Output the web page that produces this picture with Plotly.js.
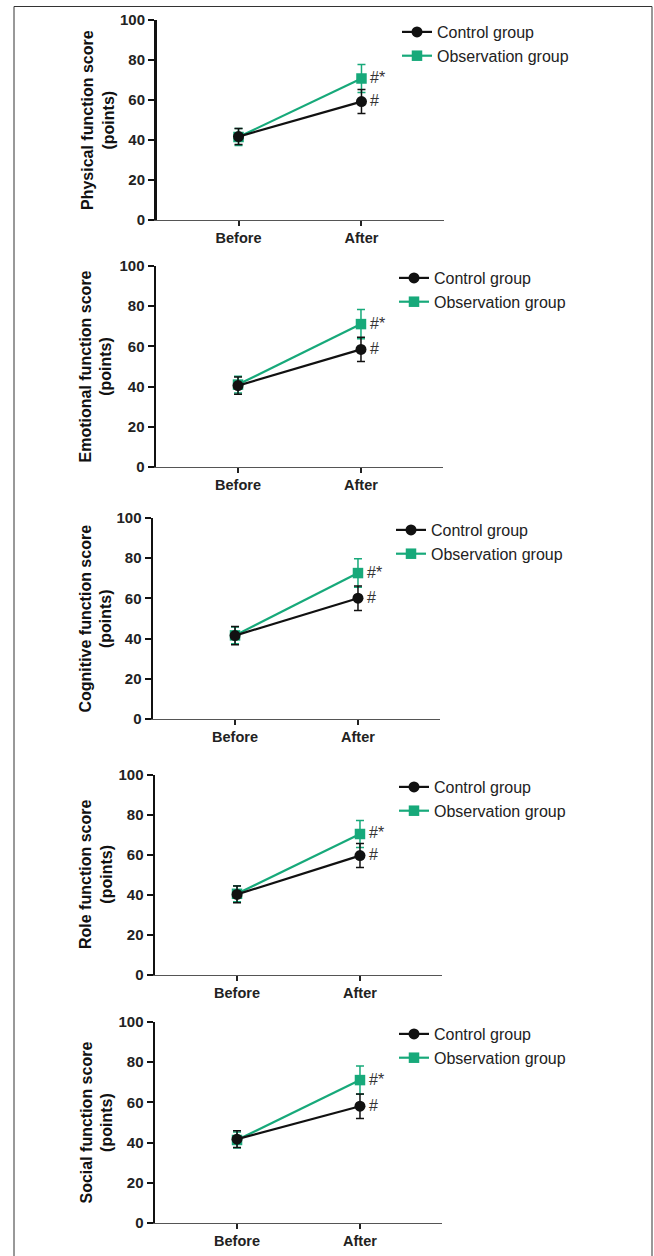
<!DOCTYPE html>
<html>
<head>
<meta charset="utf-8">
<script src="https://cdn.plot.ly/plotly-3.0.1.min.js"></script>
<style>
html,body{margin:0;padding:0;background:#fff;}
#chart{width:654px;height:1256px;}
</style>
</head>
<body>
<div id="chart"></div>
<script>
// ---- data ----
const categories = ['Before', 'After'];
const panelTitles = ['Physical function score', 'Emotional function score', 'Cognitive function score', 'Role function score', 'Social function score'];
const seriesNames = ['Control group', 'Observation group'];

const physicalControl = [41.7, 59.2];
const physicalControlSD = [4.0, 6.0];
const physicalObs = [41.5, 70.8];
const physicalObsSD = [4.2, 7.0];

const emotionalControl = [40.5, 58.5];
const emotionalControlSD = [4.3, 6.0];
const emotionalObs = [41.0, 71.1];
const emotionalObsSD = [4.2, 7.3];

const cognitiveControl = [41.5, 60.1];
const cognitiveControlSD = [4.5, 6.1];
const cognitiveObs = [41.6, 72.6];
const cognitiveObsSD = [4.2, 7.1];

const roleControl = [40.3, 59.7];
const roleControlSD = [4.2, 6.0];
const roleObs = [40.6, 70.5];
const roleObsSD = [4.0, 6.8];

const socialControl = [41.7, 58.1];
const socialControlSD = [4.2, 6.1];
const socialObs = [41.3, 71.1];
const socialObsSD = [4.0, 7.0];

const controlMarks = ['#', '#', '#', '#', '#'];
const obsMarks = ['#*', '#*', '#*', '#*', '#*'];

// ---- layout geometry (pixels) ----
const W = 654, H = 1256;
const panelTop = [20, 266, 518, 775, 1022];
const panelBottom = [220, 467, 719, 975, 1223];
const axisLeft = [156.5, 156, 153, 155, 155];
const axisLen = 287;
const titleX = [98, 96, 95, 96, 96];
const legendX = [397, 394, 391, 394, 394];

const controlData = [physicalControl, emotionalControl, cognitiveControl, roleControl, socialControl];
const controlSD = [physicalControlSD, emotionalControlSD, cognitiveControlSD, roleControlSD, socialControlSD];
const obsData = [physicalObs, emotionalObs, cognitiveObs, roleObs, socialObs];
const obsSD = [physicalObsSD, emotionalObsSD, cognitiveObsSD, roleObsSD, socialObsSD];

const green = '#17a97a';
const black = '#111111';
const FONT = 'Liberation Sans, Arial, Helvetica, sans-serif';

const traces = [];
const layout = {
  width: W, height: H,
  margin: {l: 0, r: 0, t: 0, b: 0},
  paper_bgcolor: '#ffffff',
  plot_bgcolor: '#ffffff',
  showlegend: true,
  font: {family: FONT, color: '#222'},
  annotations: [],
  shapes: [{
    type: 'rect', xref: 'paper', yref: 'paper',
    x0: 14 / W, x1: 652 / W, y0: -0.05, y1: 1 - 6.5 / H,
    line: {color: '#333', width: 1}, fillcolor: 'rgba(0,0,0,0)', layer: 'below'
  }]
};

for (let i = 0; i < 5; i++) {
  const n = i === 0 ? '' : String(i + 1);
  const xa = 'x' + n, ya = 'y' + n;
  const lg = 'legend' + n;

  traces.push({
    type: 'scatter', mode: 'lines+markers',
    x: categories, y: obsData[i],
    xaxis: xa, yaxis: ya, legend: lg, legendrank: 2,
    name: seriesNames[1],
    line: {color: green, width: 2.2},
    marker: {symbol: 'square', size: 10.5, color: green},
    error_y: {type: 'data', array: obsSD[i], visible: true, color: green, thickness: 1.5, width: 4}
  });
  traces.push({
    type: 'scatter', mode: 'lines+markers',
    x: categories, y: controlData[i],
    xaxis: xa, yaxis: ya, legend: lg, legendrank: 1,
    name: seriesNames[0],
    line: {color: black, width: 2.2},
    marker: {symbol: 'circle', size: 11, color: black},
    error_y: {type: 'data', array: controlSD[i], visible: true, color: black, thickness: 1.5, width: 4}
  });

  const dom = [1 - panelBottom[i] / H, 1 - panelTop[i] / H];
  layout['xaxis' + n] = {
    type: 'category',
    domain: [axisLeft[i] / W, (axisLeft[i] + axisLen) / W],
    range: [-0.667, 1.667],
    anchor: ya,
    showline: true, linecolor: '#555', linewidth: 1,
    ticks: 'outside', ticklen: 5, tickwidth: 2, tickcolor: '#222',
    showgrid: false, zeroline: false,
    tickfont: {family: FONT, size: 14.5, weight: 'bold', color: '#222'},
    fixedrange: true
  };
  layout['yaxis' + n] = {
    domain: dom,
    range: [0, 100], dtick: 20, tick0: 0,
    anchor: xa,
    showline: true, linecolor: black, linewidth: 2.5,
    ticks: 'outside', ticklen: 6, tickwidth: 2, tickcolor: black,
    showgrid: false, zeroline: false,
    tickfont: {family: FONT, size: 15, weight: 'bold', color: '#222'},
    fixedrange: true
  };
  layout[lg] = {
    x: legendX[i] / W, xanchor: 'left',
    y: 1 - (panelTop[i] - 5) / H, yanchor: 'top',
    bgcolor: 'rgba(0,0,0,0)', borderwidth: 0,
    font: {family: FONT, size: 16, color: '#222'},
    traceorder: 'normal', tracegroupgap: 0
  };

  layout.annotations.push({
    xref: 'paper', yref: 'paper',
    x: titleX[i] / W, y: (dom[0] + dom[1]) / 2,
    xanchor: 'center', yanchor: 'middle',
    textangle: -90, showarrow: false,
    text: panelTitles[i] + '<br>(points)',
    font: {family: FONT, size: 16, weight: 'bold', color: '#111'}
  });
  layout.annotations.push({
    xref: xa, yref: ya, x: categories[1], y: obsData[i][1],
    xanchor: 'left', yanchor: 'middle', xshift: 7, yshift: 1, showarrow: false,
    text: obsMarks[i], font: {family: FONT, size: 16, color: '#333'}
  });
  layout.annotations.push({
    xref: xa, yref: ya, x: categories[1], y: controlData[i][1],
    xanchor: 'left', yanchor: 'middle', xshift: 7, yshift: 1, showarrow: false,
    text: controlMarks[i], font: {family: FONT, size: 16, color: '#333'}
  });
}

Plotly.newPlot('chart', traces, layout, {displayModeBar: false, staticPlot: true});
</script>
</body>
</html>
